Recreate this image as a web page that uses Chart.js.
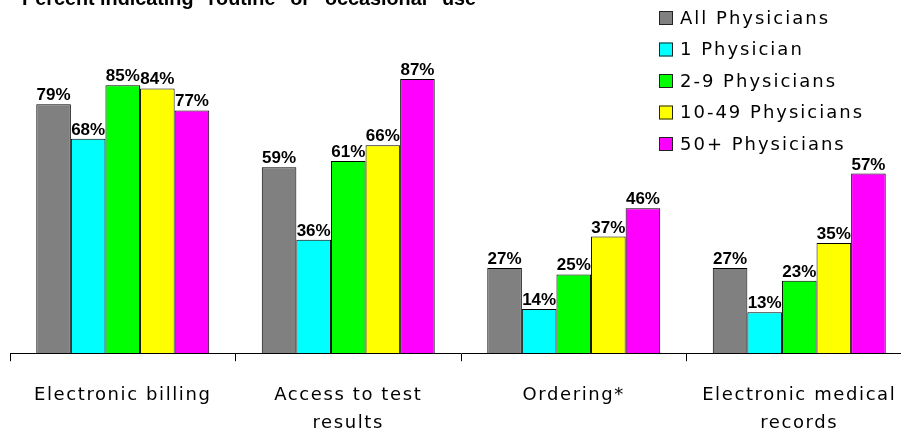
<!DOCTYPE html>
<html>
<head>
<meta charset="utf-8">
<script src="https://cdn.jsdelivr.net/npm/chart.js@4/dist/chart.umd.min.js"></script>
<style>
  html, body { margin: 0; padding: 0; background: #fff; overflow: hidden; }
  #wrap { width: 912px; height: 436px; position: relative; }
</style>
</head>
<body>
<div id="wrap"><canvas id="chart" width="912" height="436"></canvas></div>
<script>
const categories = [
  'Electronic billing',
  ['Access to test', 'results'],
  'Ordering*',
  ['Electronic medical', 'records']
];
const seriesNames = ['All Physicians', '1 Physician', '2-9 Physicians', '10-49 Physicians', '50+ Physicians'];
const allPhysicians = [79, 59, 27, 27];
const onePhysician = [68, 36, 14, 13];
const twoToNine = [85, 61, 25, 23];
const tenToFortyNine = [84, 66, 37, 35];
const fiftyPlus = [77, 87, 46, 57];
const titleText = 'Percent indicating "routine" or "occasional" use';

const colors = ['#808080', '#00ffff', '#00ff00', '#ffff00', '#ff00ff'];
const values = [allPhysicians, onePhysician, twoToNine, tenToFortyNine, fiftyPlus];

const labelFont = 'DejaVu Sans';

// spacing for axis text, reset later for value labels
const spacing = {
  id: 'spacing',
  beforeDraw(chart) {
    chart.ctx.letterSpacing = '1.6px';
  }
};

const extras = {
  id: 'extras',
  afterDatasetsDraw(chart) {
    const ctx = chart.ctx;
    ctx.save();
    ctx.letterSpacing = '0px';
    ctx.fillStyle = '#000';
    ctx.font = 'bold 17px "Liberation Sans", Arial, sans-serif';
    ctx.textAlign = 'center';
    ctx.textBaseline = 'alphabetic';
    chart.data.datasets.forEach((ds, i) => {
      chart.getDatasetMeta(i).data.forEach((bar, j) => {
        ctx.fillText(ds.data[j] + '%', bar.x, bar.y - 4);
      });
    });

    // title, mostly cut off at the top
    ctx.textAlign = 'left';
    ctx.font = 'bold 19.8px "Liberation Sans", Arial, sans-serif';
    ctx.fillText(titleText, 22, 5);

    // legend
    ctx.font = '18px ' + labelFont;
    ctx.letterSpacing = '2px';
    ctx.textBaseline = 'middle';
    chart.data.datasets.forEach((ds, i) => {
      const y = 18 + i * 31.5;
      ctx.fillStyle = ds.backgroundColor;
      ctx.fillRect(659, y - 7, 14, 14);
      ctx.strokeStyle = '#222';
      ctx.lineWidth = 1;
      ctx.strokeRect(659.5, y - 6.5, 13, 13);
      ctx.fillStyle = '#000';
      ctx.fillText(ds.label, 680, y + 1);
    });
    ctx.restore();
  }
};

new Chart(document.getElementById('chart'), {
  type: 'bar',
  data: {
    labels: categories,
    datasets: seriesNames.map((name, i) => ({
      label: name,
      data: values[i],
      backgroundColor: colors[i],
      borderColor: '#000',
      borderWidth: 1,
      categoryPercentage: 0.767,
      barPercentage: 1
    }))
  },
  options: {
    responsive: false,
    animation: false,
    devicePixelRatio: 1,
    layout: { padding: { top: 38, left: 10, right: 0, bottom: -21 } },
    plugins: {
      legend: { display: false },
      tooltip: { enabled: false },
      title: { display: false }
    },
    scales: {
      y: { display: false, min: 0, max: 100 },
      x: {
        border: { display: true, color: '#000', width: 1 },
        grid: {
          display: true,
          offset: true,
          drawOnChartArea: false,
          drawTicks: true,
          tickLength: 8,
          color: '#000'
        },
        ticks: {
          color: '#000',
          padding: 20,
          maxRotation: 0,
          autoSkip: false,
          font: { family: labelFont, size: 18, lineHeight: 1.55 }
        }
      }
    }
  },
  plugins: [spacing, extras]
});
</script>
</body>
</html>
